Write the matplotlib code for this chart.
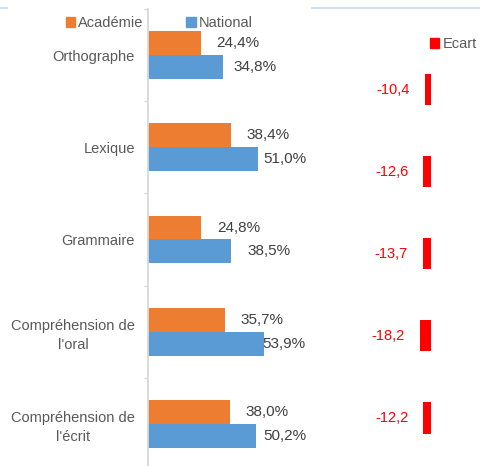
import matplotlib.pyplot as plt
from matplotlib.patches import Patch

categories = ['Orthographe', 'Lexique', 'Grammaire',
              "Compréhension de\nl'oral", "Compréhension de\nl'écrit"]
academie = [24.4, 38.4, 24.8, 35.7, 38.0]
national = [34.8, 51.0, 38.5, 53.9, 50.2]
ecart = [-10.4, -12.6, -13.7, -18.2, -12.2]

ORANGE = '#ED7D31'
BLUE = '#5B9BD5'
RED = '#FF0000'
GREY_TXT = '#595959'
W, H = 481, 466
FS = 10.5
FS_NUM = 11


def fmt(v):
    return ('%.1f' % v).replace('.', ',')


def px_axes(fig, left, top, right, bottom):
    return fig.add_axes([left / W, (H - bottom) / H, (right - left) / W, (bottom - top) / H])


plt.rcParams['font.family'] = ['Liberation Sans', 'DejaVu Sans']
fig = plt.figure(figsize=(W / 100, H / 100), dpi=100)

# main chart
ax = px_axes(fig, 148, 9, 340, 470)
n = len(categories)
pos = list(range(n))
h = 0.26
ax.barh([p - h / 2 for p in pos], academie, height=h, color=ORANGE, label='Académie')
ax.barh([p + h / 2 for p in pos], national, height=h, color=BLUE, label='National')
ax.set_xlim(0, 89.1)
ax.set_ylim(n - 0.5, -0.5)

nat_dx = [10, 5, 16, -2, 7]
for i, v in enumerate(academie):
    ax.annotate(fmt(v) + '%', (v, i - h / 2), xytext=(16, 0), textcoords='offset pixels',
                va='center', ha='left', fontsize=FS_NUM, color='#404040')
for i, v in enumerate(national):
    ax.annotate(fmt(v) + '%', (v, i + h / 2), xytext=(nat_dx[i], 0), textcoords='offset pixels',
                va='center', ha='left', fontsize=FS_NUM, color='#404040')

ax.set_yticks(pos)
ax.set_yticklabels(categories, fontsize=FS, color=GREY_TXT, multialignment='center',
                   linespacing=1.45)
ax.set_yticks([p - 0.5 for p in range(n + 1)], minor=True)
ax.tick_params(axis='y', which='major', length=0, pad=9.4)
ax.tick_params(axis='y', which='minor', length=3, color='#d9d9d9', width=1)
ax.set_xticks([])
for s in ['top', 'right', 'bottom']:
    ax.spines[s].set_visible(False)
ax.spines['left'].set_color('#d9d9d9')
ax.spines['left'].set_linewidth(1.3)

fig.legend(handles=[Patch(color=ORANGE, label='Académie'), Patch(color=BLUE, label='National')],
           loc='center left', bbox_to_anchor=(66 / W, (H - 23) / H), ncol=2, frameon=False,
           handlelength=0.65, handleheight=0.65, handletextpad=0.2, columnspacing=2.9,
           fontsize=FS, labelcolor=GREY_TXT, borderaxespad=0, borderpad=0)

# ecart chart
ax2 = px_axes(fig, 380, 48.5, 431, 459)
ax2.barh(pos, ecart, height=0.38, color=RED)
ax2.set_xlim(-51 / 0.62, 0)
ax2.set_ylim(n - 0.5, -0.5)
for i, v in enumerate(ecart):
    ax2.annotate(fmt(v), (v, i), xytext=(-15, 0), textcoords='offset pixels',
                 va='center', ha='right', fontsize=FS, color=RED)
ax2.axis('off')

fig.legend(handles=[Patch(color=RED, label='Ecart')], loc='center left',
           bbox_to_anchor=(430 / W, (H - 44) / H), frameon=False,
           handlelength=0.65, handleheight=0.65, handletextpad=0.2,
           fontsize=FS, labelcolor=GREY_TXT, borderaxespad=0, borderpad=0)

# light separator line at top
fig.add_artist(plt.Line2D([0, 7 / W], [(H - 8) / H] * 2, color='#c5d9f1', lw=1.2))
fig.add_artist(plt.Line2D([312 / W, 1], [(H - 8) / H] * 2, color='#c5d9f1', lw=1.2))

fig.savefig('out.png', dpi=100)
